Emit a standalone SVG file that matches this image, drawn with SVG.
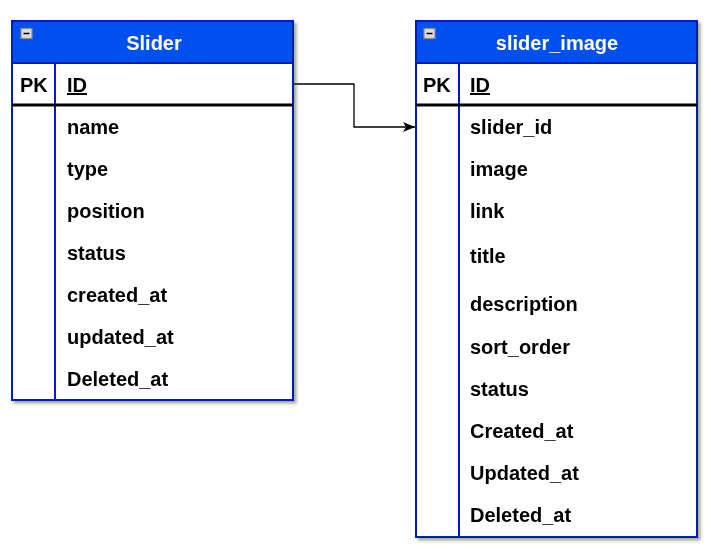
<svg xmlns="http://www.w3.org/2000/svg" width="711" height="549" viewBox="0 0 711 549">
<style>
.hdr{fill:#0050EF;stroke:#001DBC;stroke-width:2}
.body{fill:#ffffff;stroke:#001DBC;stroke-width:2}
.div{stroke:#001DBC;stroke-width:2;fill:none}
.pkline{stroke:#000000;stroke-width:3}
.title{font-family:"Liberation Sans",Arial,sans-serif;font-weight:bold;font-size:20px;fill:#ffffff;text-anchor:middle}
.t{font-family:"Liberation Sans",Arial,sans-serif;font-weight:bold;font-size:20px;fill:#000000}
.u{text-decoration:underline}
.icon{fill:#dcdcdc;stroke:#8a8a8a;stroke-width:1.2}
.conn{fill:none;stroke:#000000;stroke-width:1.3}
</style>
<defs>
<filter id="sh" x="-10%" y="-10%" width="130%" height="130%">
<feDropShadow dx="2.5" dy="2.5" stdDeviation="1.6" flood-color="#303030" flood-opacity="0.45"/>
</filter>
<marker id="arr" viewBox="0 0 12 10" refX="12" refY="5" markerWidth="12" markerHeight="10" markerUnits="userSpaceOnUse" orient="auto">
<path d="M0,0 L12,5 L0,10 L3,5 Z" fill="#000000"/>
</marker>
</defs>

<g id="connectors">
<path class="conn" d="M293,84 L354,84 L354,127 L415,127" marker-end="url(#arr)"/>
</g>

<g id="slider" filter="url(#sh)">
<rect class="body" x="12" y="21" width="281" height="379"/>
<rect class="hdr" x="12" y="21" width="281" height="42"/>
<line class="div" x1="55" y1="63" x2="55" y2="400"/>
<line class="pkline" x1="12" y1="105" x2="293" y2="105"/>
<rect class="icon" x="21" y="28.5" width="11" height="10"/>
<line x1="23.5" y1="33.5" x2="29.5" y2="33.5" stroke="#000000" stroke-width="1.5"/>
<text class="title" x="154" y="50">Slider</text>
<text class="t" x="20" y="92">PK</text>
<text class="t u" x="67" y="92">ID</text>
<text class="t" x="67" y="134">name</text>
<text class="t" x="67" y="176">type</text>
<text class="t" x="67" y="218">position</text>
<text class="t" x="67" y="260">status</text>
<text class="t" x="67" y="302">created_at</text>
<text class="t" x="67" y="344">updated_at</text>
<text class="t" x="67" y="386">Deleted_at</text>
</g>

<g id="slider_image" filter="url(#sh)">
<rect class="body" x="416" y="21" width="281" height="516"/>
<rect class="hdr" x="416" y="21" width="281" height="42"/>
<line class="div" x1="459" y1="63" x2="459" y2="537"/>
<line class="pkline" x1="416" y1="105" x2="697" y2="105"/>
<rect class="icon" x="424" y="28.5" width="11" height="10"/>
<line x1="426.5" y1="33.5" x2="432.5" y2="33.5" stroke="#000000" stroke-width="1.5"/>
<text class="title" x="557" y="50">slider_image</text>
<text class="t" x="423" y="92">PK</text>
<text class="t u" x="470" y="92">ID</text>
<text class="t" x="470" y="134">slider_id</text>
<text class="t" x="470" y="176">image</text>
<text class="t" x="470" y="218">link</text>
<text class="t" x="470" y="263">title</text>
<text class="t" x="470" y="311">description</text>
<text class="t" x="470" y="354">sort_order</text>
<text class="t" x="470" y="396">status</text>
<text class="t" x="470" y="438">Created_at</text>
<text class="t" x="470" y="480">Updated_at</text>
<text class="t" x="470" y="522">Deleted_at</text>
</g>
</svg>
